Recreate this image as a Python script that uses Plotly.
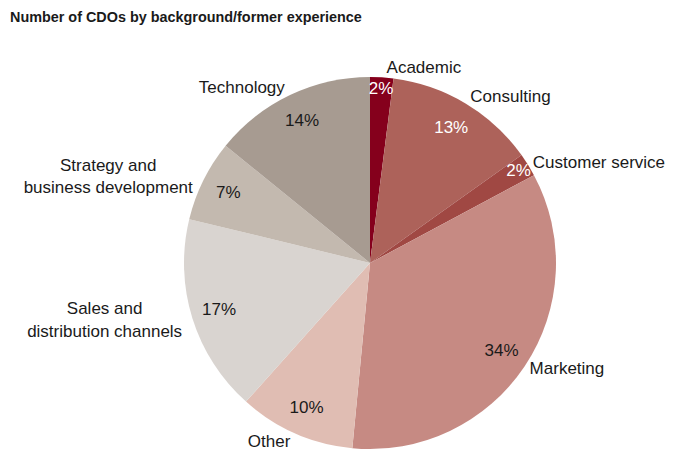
import plotly.graph_objects as go

labels = ["Academic", "Consulting", "Customer service", "Marketing", "Other",
          "Sales and<br>distribution channels", "Strategy and<br>business development", "Technology"]
values = [2, 13, 2, 34, 10, 17, 7, 14]
colors = ["#85001c", "#ad625a", "#a04843", "#c68a83", "#e0bdb3", "#d9d4d0", "#c3b9af", "#a79b91"]
pct_colors = ["white", "white", "white", "#1a1a1a", "#1a1a1a", "#1a1a1a", "#1a1a1a", "#1a1a1a"]

W, H = 674, 474
off = 8  # page body margin
cx, cy, r = 370 - off, 263 - off, 186
dom = dict(x=[(cx - r) / W, (cx + r) / W], y=[(H - cy - r) / H, (H - cy + r) / H])
FONT = "Liberation Sans, Arial"
clear = ["rgba(0,0,0,0)"] * len(values)

fig = go.Figure()
# coloured slices
fig.add_trace(go.Pie(
    labels=labels, values=values, sort=False, direction="clockwise", rotation=0,
    marker=dict(colors=colors, line=dict(width=0)), textinfo="none",
    domain=dom, showlegend=False, hoverinfo="skip",
))
# percentages placed in outer ring
fig.add_trace(go.Pie(
    labels=labels, values=values, sort=False, direction="clockwise", rotation=0, hole=0.7,
    marker=dict(colors=clear, line=dict(width=0)),
    texttemplate="%{value}%", textposition="inside", insidetextorientation="horizontal",
    insidetextfont=dict(color=pct_colors, size=17, family=FONT),
    domain=dom, showlegend=False, hoverinfo="skip",
))
# category labels outside
fig.add_trace(go.Pie(
    labels=labels, values=values, sort=False, direction="clockwise", rotation=0,
    marker=dict(colors=clear, line=dict(width=0)),
    texttemplate="%{label}", textposition="outside",
    outsidetextfont=dict(color="#1a1a1a", size=17, family=FONT),
    domain=dom, showlegend=False, hoverinfo="skip",
))
fig.update_layout(
    width=W, height=H, margin=dict(l=0, r=0, t=0, b=0),
    paper_bgcolor="white", plot_bgcolor="white",
    uniformtext=dict(minsize=17, mode="show"),
    title=dict(text="<b>Number of CDOs by background/former experience</b>",
               x=(10 - off) / W, xanchor="left", y=1 - 4 / H, yanchor="top",
               font=dict(size=14.4, family=FONT, color="#1a1a1a")),
)
fig.write_html("out.html")
